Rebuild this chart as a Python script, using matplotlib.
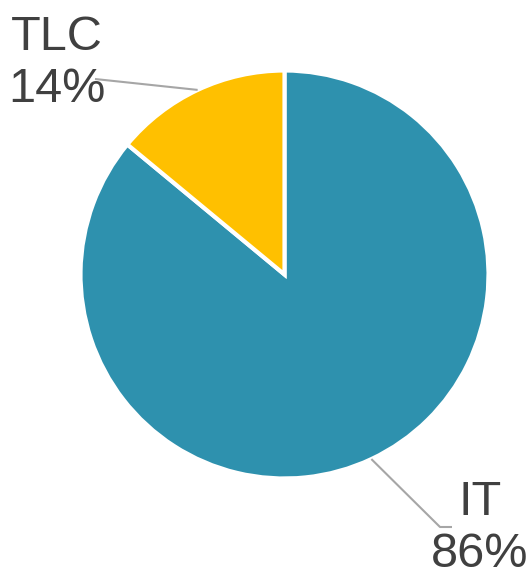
import numpy as np
import matplotlib.pyplot as plt

# data
labels = ["IT", "TLC"]
values = [86, 14]
colors = ["#2E91AE", "#FFC000"]

plt.rcParams['font.family'] = ['Liberation Sans', 'DejaVu Sans']

W, H = 530, 570
cx, cy, R = 284.5, 274.5, 204.0   # pie centre / radius in pixels

fig = plt.figure(figsize=(W / 100, H / 100), dpi=100)
ax = fig.add_axes([0, 0, 1, 1])

wedges, _ = ax.pie(values, colors=colors, startangle=90, counterclock=False,
                   wedgeprops=dict(edgecolor="white", linewidth=3))

ax.set_xlim(-cx / R, (W - cx) / R)
ax.set_ylim(-(H - cy) / R, cy / R)
ax.axis("off")

def px(x, y):
    # pixel position -> data coords
    return (x - cx) / R, (cy - y) / R

txt_col = "#404040"
line_col = "#A6A6A6"

# leader lines, starting on the rim at the wedge's middle angle
# (label centre x, first baseline y, knee points) in pixels
label_pos = {
    "IT": (480, 515, [(440, 527), (452, 527)]),
    "TLC": (57, 50, [(95, 79)]),
}
for w, lab, v in zip(wedges, labels, values):
    mid = np.deg2rad((w.theta1 + w.theta2) / 2)
    x0, y0 = np.cos(mid), np.sin(mid)
    lx, ly, knees = label_pos[lab]
    pts = [(x0, y0)] + [px(*k) for k in knees]
    ax.plot([p[0] for p in pts], [p[1] for p in pts], color=line_col, lw=1.5,
            solid_capstyle="butt")
    tx, ty = px(lx, ly)
    ax.text(tx, ty, lab, ha="center", va="baseline", fontsize=35, color=txt_col)
    tx, ty = px(lx, ly + 52)
    ax.text(tx, ty, f"{v}%", ha="center", va="baseline", fontsize=35, color=txt_col)

fig.savefig("out.png", dpi=100, facecolor="white")
